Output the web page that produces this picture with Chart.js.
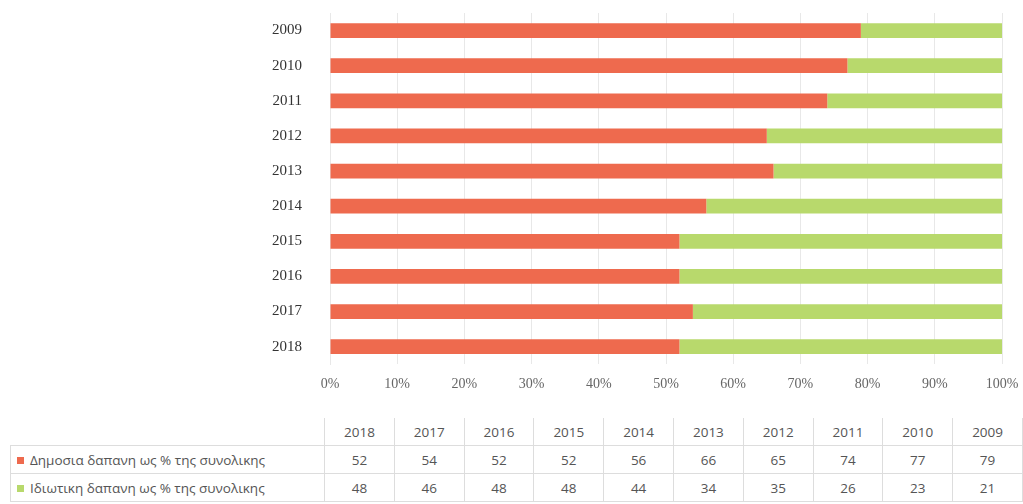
<!DOCTYPE html>
<html>
<head>
<meta charset="utf-8">
<script src="https://cdn.jsdelivr.net/npm/chart.js@4.4.0/dist/chart.umd.min.js"></script>
<style>
  body { margin: 0; background: #fff; width: 1023px; height: 504px; overflow: hidden; position: relative; }
  #wrap { position: absolute; left: 0; top: 0; width: 1023px; height: 405px; }
  table { position: absolute; left: 10px; top: 418px; border-collapse: collapse; font-family: "Open Sans", sans-serif; font-size: 13.5px; color: #555; }
  td { height: 27px; padding: 0; text-align: center; width: 70px; border: 1px solid #ddd; }
  tr.head td { border-top: none; }
  tr.head td.lbl { border: none; border-bottom: 1px solid #ddd; }
  td.lbl { width: 309px; text-align: left; padding-left: 6px; white-space: nowrap; }
  .sw { display: inline-block; width: 7px; height: 7px; margin-right: 6px; vertical-align: 1px; }
</style>
</head>
<body>
<div id="wrap"><canvas id="chart"></canvas></div>
<table id="tbl"></table>
<script>
const years = ['2009', '2010', '2011', '2012', '2013', '2014', '2015', '2016', '2017', '2018'];
const publicShare = [79, 77, 74, 65, 66, 56, 52, 52, 54, 52];
const privateShare = [21, 23, 26, 35, 34, 44, 48, 48, 46, 48];
const publicLabel = 'Δημοσια δαπανη ως % της συνολικης';
const privateLabel = 'Ιδιωτικη δαπανη ως % της συνολικης';
const red = '#ee6a4e';
const green = '#b8d96c';

// table (years in reverse order, like the original)
const tbl = document.getElementById('tbl');
const order = years.map((y, i) => i).reverse();
let html = '<tr class="head"><td class="lbl"></td>' + order.map(i => `<td>${years[i]}</td>`).join('') + '</tr>';
html += `<tr><td class="lbl"><span class="sw" style="background:${red}"></span>${publicLabel}</td>` + order.map(i => `<td>${publicShare[i]}</td>`).join('') + '</tr>';
html += `<tr><td class="lbl"><span class="sw" style="background:${green}"></span>${privateLabel}</td>` + order.map(i => `<td>${privateShare[i]}</td>`).join('') + '</tr>';
tbl.innerHTML = html;

const ctx = document.getElementById('chart').getContext('2d');
new Chart(ctx, {
    type: 'bar',
    data: {
        labels: years,
        datasets: [{
            label: publicLabel,
            data: publicShare,
            backgroundColor: red,
            barPercentage: 0.42,
            categoryPercentage: 1
        }, {
            label: privateLabel,
            data: privateShare,
            backgroundColor: green,
            barPercentage: 0.42,
            categoryPercentage: 1
        }]
    },
    options: {
        indexAxis: 'y',
        responsive: true,
        maintainAspectRatio: false,
        animation: false,
        layout: { padding: { top: 13, right: 0, bottom: 0, left: 0 } },
        plugins: { legend: { display: false }, tooltip: { enabled: false } },
        scales: {
            x: {
                stacked: true,
                min: 0,
                max: 100,
                afterFit: axis => { axis.paddingRight = 21; },
                ticks: {
                    stepSize: 10,
                    callback: v => v + '%',
                    color: '#666',
                    padding: 12,
                    font: { family: 'Liberation Serif', size: 14 }
                },
                grid: { color: '#e8e8e8', drawTicks: false },
                border: { display: false }
            },
            y: {
                stacked: true,
                afterFit: axis => {
                    axis.width = 330;
                    axis.paddingTop = 0;
                    axis.paddingBottom = 0;
                },
                ticks: {
                    color: '#333',
                    padding: 20,
                    font: { family: 'Liberation Serif', size: 15 }
                },
                grid: { display: false },
                border: { color: '#e8e8e8' }
            }
        }
    }
});
</script>
</body>
</html>
